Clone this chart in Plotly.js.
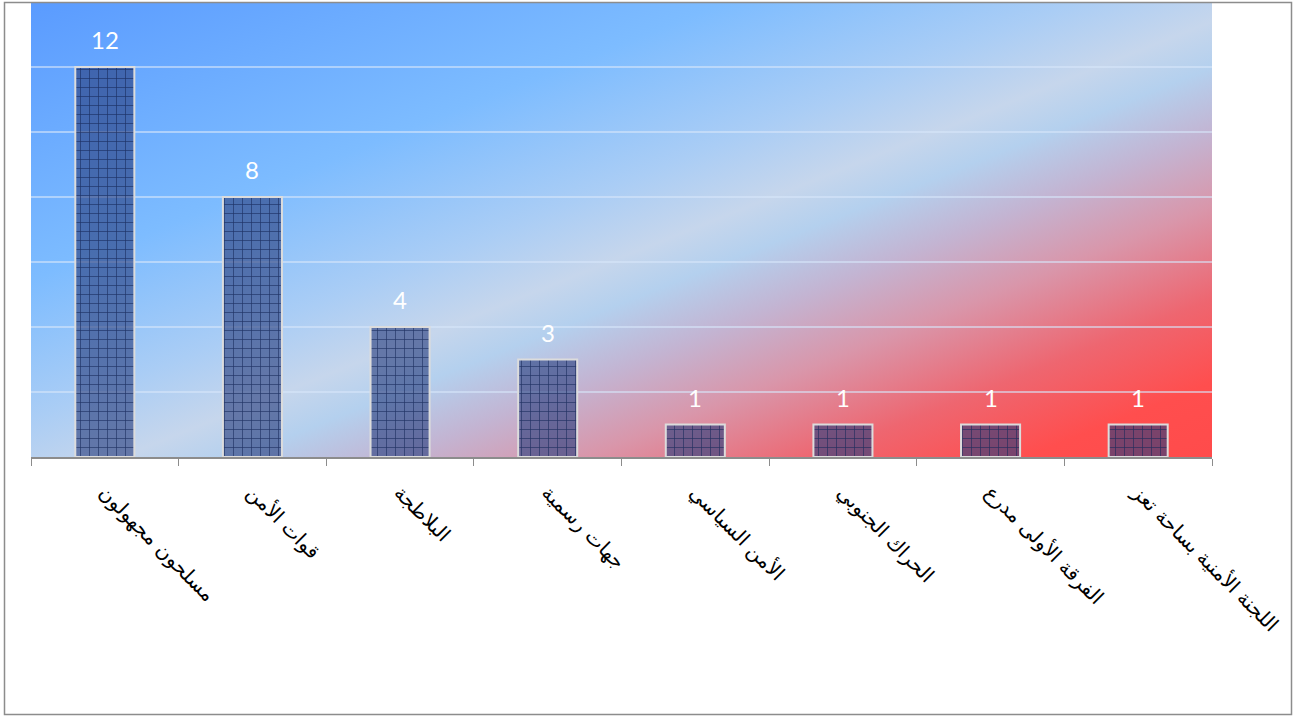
<!DOCTYPE html>
<html>
<head>
<meta charset="utf-8">
<script src="https://cdn.plot.ly/plotly-3.0.1.min.js"></script>
<style>
html,body{margin:0;padding:0;background:#fff;}
#chart{width:1293px;height:716px;}
</style>
</head>
<body>
<div id="chart"></div>
<script>
const categories = ["مسلحون مجهولون", "قوات الأمن", "البلاطجة", "جهات رسمية", "الأمن السياسي", "الحراك الجنوبي", "الفرقة الأولى مدرع", "اللجنة الأمنية بساحة تعز"];
const values = [12, 8, 4, 3, 1, 1, 1, 1];
const yTicks = [0, 2, 4, 6, 8, 10, 12, 14];

const W = 1293, H = 716;
const L = 31, R = 81, T = 2, B = 259;
const pw = W - L - R, ph = H - T - B;

const bgSvg = `<svg xmlns="http://www.w3.org/2000/svg" width="${pw}" height="${ph}" viewBox="0 0 ${pw} ${ph}" preserveAspectRatio="none">
<defs><linearGradient id="g" gradientUnits="userSpaceOnUse" x1="0" y1="0" x2="319" y2="799">
<stop offset="0" stop-color="#5a9bff"/>
<stop offset="0.3" stop-color="#7dbcff"/>
<stop offset="0.45" stop-color="#aacdf5"/>
<stop offset="0.53" stop-color="#c6d6ec"/>
<stop offset="0.58" stop-color="#b4d0ee"/>
<stop offset="0.65" stop-color="#c3b4d2"/>
<stop offset="0.73" stop-color="#d996aa"/>
<stop offset="0.83" stop-color="#ee6670"/>
<stop offset="0.92" stop-color="#ff4e4e"/>
<stop offset="1" stop-color="#ff4b4b"/>
</linearGradient></defs>
<rect x="0" y="0" width="${pw}" height="${ph}" fill="url(#g)"/>
</svg>`;
const bgUri = "data:image/svg+xml;charset=utf-8," + encodeURIComponent(bgSvg);

const trace = {
  type: "bar",
  x: categories,
  y: values,
  marker: {
    color: "rgba(35,55,115,0.65)",
    line: {color: "#dcdcdc", width: 2},
    pattern: {
      shape: "+",
      size: 9,
      solidity: 0.14,
      fgcolor: "rgba(22,38,88,0.85)",
      bgcolor: "rgba(40,62,125,0.62)",
      fillmode: "replace"
    }
  },
  hoverinfo: "none"
};

const annotations = categories.map((c, i) => ({
  x: c, y: values[i], xref: "x", yref: "y",
  text: String(values[i]), showarrow: false,
  yanchor: "bottom", yshift: 11,
  font: {family: "Lato, 'Open Sans', sans-serif", size: 24, color: "#ffffff"}
}));

const px = v => (v - L) / pw;
const py = v => (T + ph - v) / ph;

const layout = {
  width: W, height: H,
  margin: {l: L, r: R, t: T, b: B, pad: 0},
  paper_bgcolor: "#ffffff",
  plot_bgcolor: "rgba(0,0,0,0)",
  showlegend: false,
  bargap: 0.6,
  font: {family: "'DejaVu Sans', sans-serif"},
  xaxis: {
    type: "category",
    tickangle: 45,
    tickson: "boundaries",
    ticks: "outside",
    ticklen: 7,
    tickwidth: 1,
    tickcolor: "#8c8c8c",
    ticklabelstandoff: 14,
    showline: true,
    linecolor: "#8c8c8c",
    linewidth: 2,
    showgrid: false,
    tickfont: {family: "'DejaVu Sans', sans-serif", size: 20, color: "#000000"},
    fixedrange: true
  },
  yaxis: {
    range: [0, 14],
    tickvals: yTicks,
    showticklabels: false,
    showgrid: true,
    gridcolor: "rgba(215,230,250,0.6)",
    gridwidth: 1.5,
    zeroline: false,
    showline: false,
    ticks: "",
    fixedrange: true
  },
  images: [{
    source: bgUri, xref: "paper", yref: "paper",
    x: 0, y: 1, sizex: 1, sizey: 1,
    xanchor: "left", yanchor: "top", sizing: "stretch", layer: "below"
  }],
  shapes: [{
    type: "rect", xref: "paper", yref: "paper",
    x0: px(4.5), x1: px(1291.5), y0: py(714.5), y1: py(2.5),
    line: {color: "#8c8c8c", width: 1.5}, fillcolor: "rgba(0,0,0,0)", layer: "above"
  }],
  annotations: annotations
};

Plotly.newPlot("chart", [trace], layout, {displayModeBar: false, staticPlot: true});
</script>
</body>
</html>
